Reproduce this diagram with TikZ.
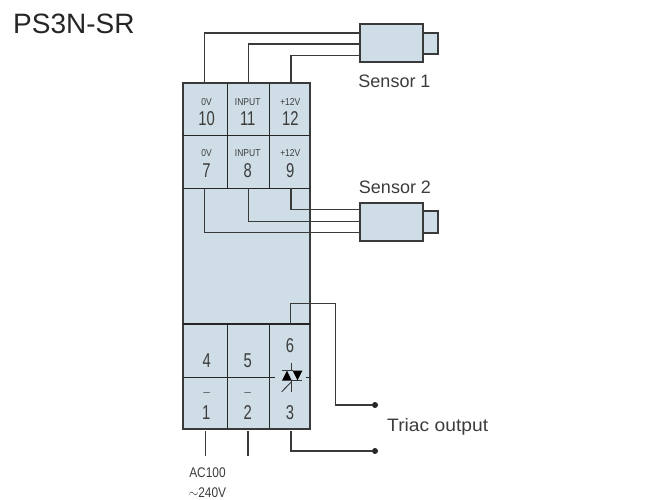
\documentclass[tikz,border=0pt]{standalone}
\usepackage{fontspec}
\usepackage{xcolor}
\setmainfont{Liberation Sans}
\definecolor{panelblue}{HTML}{CFDEE6}
\definecolor{wiregray}{HTML}{3A3A3A}
\definecolor{textgray}{HTML}{3C3C3C}
\tikzset{
	box/.style={draw=wiregray, line width=1.8pt, fill=panelblue, inner sep=0pt},
	wire/.style={draw=wiregray, line width=1.2pt},
	divider/.style={draw=black!85, line width=1.1pt},
	bigtext/.style={text=textgray, inner sep=0pt, font=\fontsize{20}{20}\selectfont, xscale=0.74},
	tinytext/.style={text=textgray, inner sep=0pt, font=\fontsize{10}{10}\selectfont, xscale=0.85},
	labeltext/.style={text=textgray, inner sep=0pt, font=\fontsize{18}{18}\selectfont},
	actext/.style={text=textgray, inner sep=0pt, anchor=base, font=\fontsize{14}{14}\selectfont, xscale=0.85},
	dot/.style={circle, fill=black!85, inner sep=0pt, minimum size=6pt}
}

\begin{document}
\begin{tikzpicture}[x=1pt,y=-1pt]
\useasboundingbox (0,0) rectangle (658,499);

\node[text=black!85, inner sep=0pt, anchor=base west, font=\fontsize{28}{28}\selectfont] (title) at (13,33.3) {PS3N-SR};

% module body
\node[box, minimum width=127.6pt, minimum height=346pt] (body) at (246.5,255.7) {};
\draw[divider] (227.3,82.7) -- (227.3,188.3);
\draw[divider] (269.3,82.7) -- (269.3,188.3);
\draw[divider] (182.7,135.7) -- (310.3,135.7);
\draw[divider] (182.7,188.3) -- (310.3,188.3);
\draw[divider] (227.3,324) -- (227.3,428.7);
\draw[divider] (269.3,324) -- (269.3,428.7);
\draw[divider] (182.7,324) -- (310.3,324);
\draw[divider] (182.7,377.7) -- (274.5,377.7);
\draw[divider] (305.7,377.7) -- (310.3,377.7);

% sensors
\node[box, minimum width=14.4pt, minimum height=21.3pt] (tip1) at (430.5,43.3) {};
\node[box, minimum width=63.3pt, minimum height=38pt] (sens1) at (391.7,43.3) {};
\node[box, minimum width=14.4pt, minimum height=21.3pt] (tip2) at (430.5,222) {};
\node[box, minimum width=63.3pt, minimum height=38pt] (sens2) at (391.7,222) {};
\node[labeltext] (lab1) at (394.5,81) {Sensor 1};
\node[labeltext] (lab2) at (395,187) {Sensor 2};

% terminal texts
\foreach \name/\x/\top/\num in {a/206.5/0V/10,b/247.7/INPUT/11,c/290.3/+12V/12}{
	\node[tinytext] (top\name) at (\x,102.3) {\top};
	\node[bigtext] (num\name) at (\x,119) {\num};
}
\foreach \name/\x/\top/\num in {d/206.5/0V/7,e/247.7/INPUT/8,f/290.3/+12V/9}{
	\node[tinytext] (top\name) at (\x,153.3) {\top};
	\node[bigtext] (num\name) at (\x,170.7) {\num};
}
\node[bigtext] (num4) at (206.7,360.7) {4};
\node[bigtext] (num5) at (247.7,360.7) {5};
\node[bigtext] (num6) at (290,346) {6};
\node[bigtext] (num1) at (206.3,412.3) {1};
\node[bigtext] (num2) at (247.7,412.3) {2};
\node[bigtext] (num3) at (290,412.3) {3};
\node[tinytext, xscale=1.4] (minus1) at (206.7,394.5) {–};
\node[tinytext, xscale=1.4] (minus2) at (247.7,394.5) {–};

% wires
\coordinate (pin10) at (204.7,82.7);
\coordinate (pin11) at (248.7,82.7);
\coordinate (pin12) at (291,82.7);
\coordinate (pin7) at (204.7,188.3);
\coordinate (pin8) at (248.7,188.3);
\coordinate (pin9) at (291,188.3);
\coordinate (in1a) at (360,33);
\coordinate (in1b) at (360,44);
\coordinate (in1c) at (360,55.3);
\coordinate (in2a) at (360,209.3);
\coordinate (in2b) at (360,221.3);
\coordinate (in2c) at (360,232.3);
\draw[wire] (pin10) |- (in1a);
\draw[wire] (pin11) |- (in1b);
\draw[wire] (pin12) |- (in1c);
\draw[wire] (pin9) |- (in2a);
\draw[wire] (pin8) |- (in2b);
\draw[wire] (pin7) |- (in2c);

% triac
\draw[wire, line width=0.9pt] (291,363.3) -- (291,370.7);
\draw[wire, line width=0.9pt] (281.7,370.7) -- (293.3,370.7);
\draw[wire, line width=0.9pt] (291,380.7) -- (302.3,380.7);
\draw[wire, line width=0.9pt] (291,380.7) -- (291,391.7);
\draw[wire, line width=0.9pt] (281.7,391.7) -- (291,382.3);
\fill[black] (287,370.7) -- (291.7,380.5) -- (282,380.5) -- cycle;
\fill[black] (292.7,370.7) -- (302.3,370.7) -- (297.5,380.5) -- cycle;

% outputs
\node[dot] (out1) at (375,405) {};
\node[dot] (out2) at (375,451) {};
\coordinate (pin6) at (290.7,324);
\coordinate (pin3) at (291,431);
\draw[wire] (pin6) -- (290.7,303.3) -- (335.3,303.3) |- (out1);
\draw[wire] (pin3) |- (out2);
\node[labeltext, anchor=west, xscale=1.07] (lab3) at (387,427) {Triac output};

% supply
\coordinate (pin1) at (205.7,431);
\coordinate (pin2) at (248,431);
\coordinate (end1) at (205.7,456);
\coordinate (end2) at (248,456);
\draw[wire] (pin1) -- (end1);
\draw[wire] (pin2) -- (end2);
\node[actext] (ac1) at (207.5,477.3) {AC100};
\node[actext] (ac2) at (207.5,497.5) {$\sim$240V};

\end{tikzpicture}
\end{document}
